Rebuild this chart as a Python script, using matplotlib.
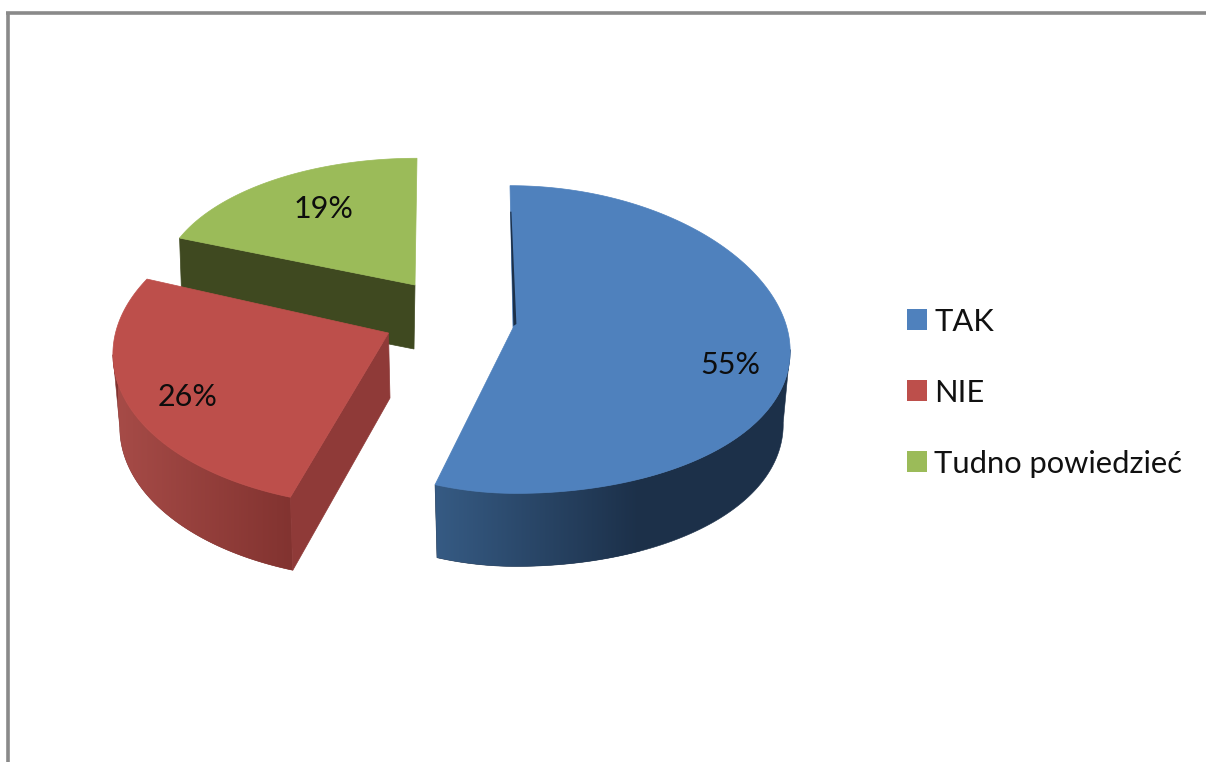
import numpy as np
import matplotlib
matplotlib.use("Agg")
import matplotlib.pyplot as plt
from matplotlib.patches import Polygon, Rectangle
from matplotlib.colors import to_rgb

categories = ["TAK", "NIE", "Tudno powiedzieć"]
shares = [55, 26, 19]
top_colors = ["#4f81bd", "#bd4f4b", "#9bbb59"]
wall_left = ["#365b84", "#a64b47", "#3f4920"]
wall_right = ["#1c3049", "#823330", "#3f4920"]
face_colors = ["#1c3049", "#8f3a38", "#3f4920"]

# layout of each exploded wedge in picture pixels
apex = [(513, 328), (388.5, 333), (415, 285)]
radius_x = [274, 273, 254]
radius_y = [153, 153, 128]
persp_x_right = [0.14, 0.0, 0.0]
persp_x_left = [-0.05, 0.13, 0.0]
persp_y = [0.075, 0.12, 0.01]
skew = [-3.0, 2.0, 2.0]
depth = [73, 73, 65]
shrink = [0.975, 0.975, 0.99]
wall_span = [(98, None), (None, 262), (None, None)]
grad_x = [(435, 640), (118, 292), (0, 1)]
label_pos = [(730, 363), (188, 394), (323, 206)]
legend_y = [319.5, 390, 461.5]

plt.rcParams["font.family"] = ["Lato", "Noto Sans"]

fig = plt.figure(figsize=(12.06, 7.62), dpi=100, facecolor="white")
ax = fig.add_axes([0, 0, 1, 1])


def rim(i, t):
    t = np.radians(np.asarray(t, dtype=float))
    X, Y = np.sin(t), np.cos(t)
    px = np.where(X > 0, persp_x_right[i], persp_x_left[i])
    x = apex[i][0] + radius_x[i] * X / (1 + px * Y) + skew[i] * Y
    y = apex[i][1] - radius_y[i] * Y / (1 + persp_y[i] * Y)
    return x, y


def lowered(i, x, y):
    return apex[i][0] + (np.asarray(x) - apex[i][0]) * shrink[i], np.asarray(y) + depth[i]


def gradient_wall(i, a0, a1, z):
    """Curved outer wall: a horizontal colour ramp clipped to the wall outline."""
    ts = np.linspace(a0, a1, 160)
    x, y = rim(i, ts)
    x2, y2 = lowered(i, x, y)
    pts = list(zip(x, y)) + list(zip(x2[::-1], y2[::-1]))
    patch = Polygon(pts, closed=True, fc="none", ec="none", zorder=z)
    ax.add_patch(patch)
    lo, hi = grad_x[i]
    f = np.linspace(0, 1, 256)
    a, b = np.array(to_rgb(wall_left[i])), np.array(to_rgb(wall_right[i]))
    ramp = (a + (b - a) * f[:, None])[None, :, :]
    ymin, ymax = min(y.min(), y2.min()), max(y.max(), y2.max())
    under = Polygon(pts, closed=True, fc=wall_right[i], ec=wall_right[i], lw=0.4, zorder=z)
    ax.add_patch(under)
    im = ax.imshow(ramp, extent=(lo, hi, ymax + 2, ymin - 2), aspect="auto",
                   interpolation="bilinear", zorder=z + 0.5)
    im.set_clip_path(patch)


# cumulative clockwise angles from twelve o'clock
edges = np.concatenate([[0], np.cumsum(shares)]) * 360.0 / sum(shares)

# frame of the original picture
ax.plot([7.5, 7.5], [762, 12.5], color="#8a8a8a", lw=2.6, solid_capstyle="butt", zorder=1)
ax.plot([6.3, 1206], [12.5, 12.5], color="#8a8a8a", lw=2.6, solid_capstyle="butt", zorder=1)

for order, i in enumerate([2, 1, 0]):
    z = 2 + order * 5
    t0, t1 = edges[i], edges[i + 1]

    if i == 2:
        # straight cut face on the lower-left side of the green slice
        xr, yr = rim(i, t0)
        xa, ya = apex[i]
        xr2, yr2 = lowered(i, xr, yr)
        ax.add_patch(Polygon([(xr, yr), (xa, ya), (xa - 1, ya + depth[i] - 1), (xr2, yr2)],
                             fc=face_colors[i], ec=face_colors[i], lw=0.5, zorder=z))
    if i == 1:
        gradient_wall(i, t0, wall_span[i][1], z)
        # cut face
        xr, yr = rim(i, t0)
        xr2, yr2 = lowered(i, xr, yr)
        xa, ya = apex[i]
        ax.add_patch(Polygon([(xa, ya), (xa + 1.5, ya + 65), (xr2, yr2), (xr, yr)],
                             fc=face_colors[i], ec=face_colors[i], lw=0.5, zorder=z + 1))
    if i == 0:
        gradient_wall(i, wall_span[i][0], t1, z)

    # top surface
    ts = np.linspace(t0, t1, 180)
    x, y = rim(i, ts)
    pts = [apex[i]] + list(zip(x, y))
    ax.add_patch(Polygon(pts, closed=True, fc=top_colors[i], ec=top_colors[i], lw=0.5, zorder=z + 2))

    if i == 0:
        # thin dark sliver of the cut face at twelve o'clock
        xr, yr = rim(i, t0)
        xa, ya = apex[i]
        ax.add_patch(Polygon([(xa + 0.4, ya - 2), (xa + 3.4, ya - 4),
                              (xr + 1.4, yr + 26), (xr + 0.2, yr + 26)],
                             fc=face_colors[i], ec="none", zorder=z + 3))

    ax.text(*label_pos[i], f"{shares[i]}%", ha="center", va="center_baseline",
            fontsize=22, color="#0d0d0d", zorder=30)

# legend
for i, name in enumerate(categories):
    ax.add_patch(Rectangle((907, legend_y[i] - 10.5), 20, 21, fc=top_colors[i], ec="none", zorder=30))
    ax.text(934.5, legend_y[i], name, ha="left", va="center_baseline", fontsize=22.2,
            color="#111111", zorder=30)

ax.set_xlim(0, 1206)
ax.set_ylim(762, 0)
ax.axis("off")

fig.savefig("out.png", dpi=100, facecolor="white")
